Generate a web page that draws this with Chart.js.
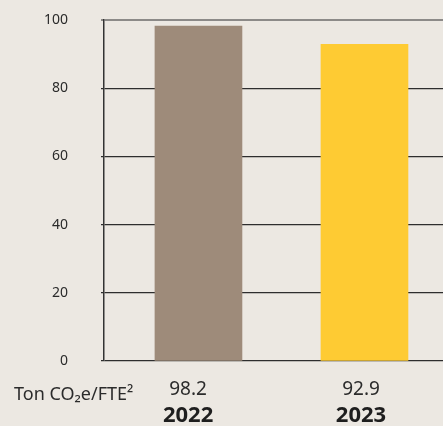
<!DOCTYPE html>
<html>
<head>
<meta charset="utf-8">
<script src="https://cdn.jsdelivr.net/npm/chart.js@4"></script>
<style>
  html, body { margin: 0; padding: 0; background: #ECE8E2; }
  #wrap { width: 443px; height: 426px; }
</style>
</head>
<body>
<div id="wrap"><canvas id="chart"></canvas></div>
<script>
// ----- data -----
const years = ["2022", "2023"];
const values = [98.2, 92.9];
const barColors = ["#9E8B7A", "#FECB33"];
const yTicks = [0, 20, 40, 60, 80, 100];
const unitLabel = "Ton CO\u2082e/FTE\u00B2";

const FONT = "'Noto Sans', 'Open Sans', sans-serif";
const INK = "#2b2b2b";

// bars and their labels sit on linear axes; the labels in the original
// are not quite centred under the bars, so they get their own range
const BAR_RANGE = { min: -0.569, max: 1.473 };
const LABEL_RANGE = { min: -0.486, max: 1.474 };

const pinTicks = (scale) => { scale.ticks = years.map((_, i) => ({ value: i })); };

// left-hand unit label, on the same row as the value labels
const unitPlugin = {
  id: "unitLabel",
  afterDraw(chart) {
    const sx = chart.scales.x;
    const ctx = chart.ctx;
    ctx.save();
    ctx.font = `18px ${FONT}`;
    ctx.fillStyle = INK;
    ctx.textBaseline = "middle";
    ctx.textAlign = "left";
    ctx.fillText(unitLabel, 14, sx.top + 34);
    ctx.restore();
  },
};

new Chart(document.getElementById("chart"), {
  type: "bar",
  data: {
    datasets: [{
      xAxisID: "xb",
      data: values.map((v, i) => ({ x: i, y: v })),
      backgroundColor: barColors,
      borderWidth: 0,
      barThickness: 87,
    }],
  },
  options: {
    responsive: true,
    maintainAspectRatio: false,
    animation: false,
    layout: { padding: { top: 20, right: 0, bottom: 0, left: 0 } },
    plugins: { legend: { display: false }, tooltip: { enabled: false } },
    scales: {
      xb: {
        type: "linear",
        display: false,
        offset: false,
        ...BAR_RANGE,
      },
      x: {
        type: "linear",
        position: "bottom",
        offset: false,
        ...LABEL_RANGE,
        afterBuildTicks: pinTicks,
        afterFit: (s) => { s.height = 40; },
        grid: { display: false, drawTicks: false },
        border: { display: false },
        ticks: {
          padding: 17,
          maxRotation: 0,
          autoSkip: false,
          color: INK,
          font: { family: FONT, size: 19 },
          callback: (v) => values[v] != null ? values[v].toFixed(1) : "",
        },
      },
      x2: {
        type: "linear",
        position: "bottom",
        offset: false,
        ...LABEL_RANGE,
        afterBuildTicks: pinTicks,
        afterFit: (s) => { s.height = 25; },
        grid: { display: false, drawTicks: false },
        border: { display: false },
        ticks: {
          padding: 2,
          maxRotation: 0,
          autoSkip: false,
          color: "#1e1e1e",
          font: { family: FONT, size: 22, weight: "bold" },
          callback: (v) => years[v] || "",
        },
      },
      y: {
        min: 0,
        max: 100,
        afterBuildTicks: (scale) => { scale.ticks = yTicks.map((v) => ({ value: v })); },
        afterFit: (s) => { s.width = 104; s.paddingTop = 8; s.paddingBottom = 8; },
        border: { display: true, color: "#333", width: 1.5 },
        grid: {
          color: (c) => c.tick && c.tick.value === 100 ? "#8c8a88" : "#2e2e2e",
          lineWidth: (c) => c.tick && c.tick.value === 100 ? 2 : 1.2,
          tickLength: 3,
        },
        ticks: {
          padding: 33,
          color: INK,
          font: { family: FONT, size: 14 },
        },
      },
    },
  },
  plugins: [unitPlugin],
});
</script>
</body>
</html>
